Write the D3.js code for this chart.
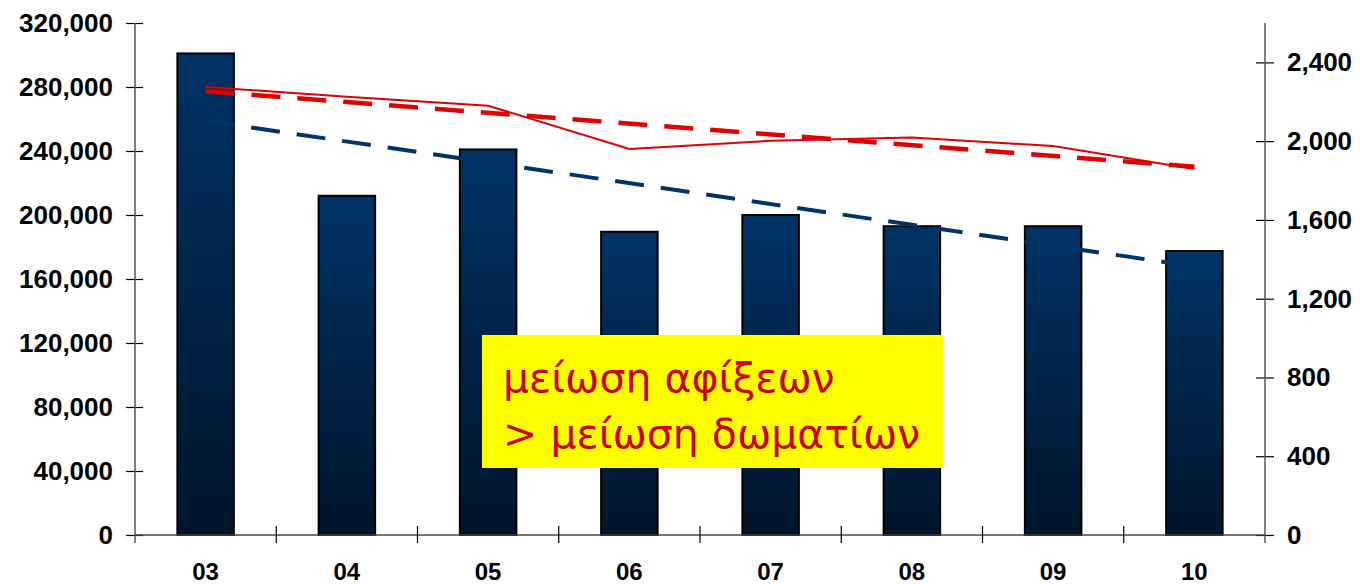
<!DOCTYPE html>
<html>
<head>
<meta charset="utf-8">
<script src="https://cdn.jsdelivr.net/npm/d3@7"></script>
<style>
  body { margin: 0; background: #fff; }
  svg { display: block; }
  .lbl { font-family: "Liberation Sans", Arial, sans-serif; font-weight: bold; fill: #000; }
</style>
</head>
<body>
<div id="chart"></div>
<script>
// years (20xx), bar series on left axis, line series on right axis
var years = ["03", "04", "05", "06", "07", "08", "09", "10"];
var arrivals = [301000, 212000, 241000, 189500, 200000, 193000, 193000, 177500];
var rooms = [2275, 2225, 2180, 1960, 2002, 2018, 1975, 1859];
var leftTicks = [0, 40000, 80000, 120000, 160000, 200000, 240000, 280000, 320000];
var rightTicks = [0, 400, 800, 1200, 1600, 2000, 2400];
var noteLines = ["μείωση αφίξεων", "> μείωση δωματίων"];

var W = 1360, H = 584,
    margin = { top: 23, right: 95, bottom: 49, left: 135 },
    width = W - margin.left - margin.right,
    height = H - margin.top - margin.bottom;

var svg = d3.select("#chart").append("svg")
    .attr("width", W)
    .attr("height", H);

var defs = svg.append("defs");
var grad = defs.append("linearGradient")
    .attr("id", "barGrad")
    .attr("x1", 0).attr("y1", 0).attr("x2", 0).attr("y2", 1);
grad.append("stop").attr("offset", "0%").attr("stop-color", "#003366");
grad.append("stop").attr("offset", "100%").attr("stop-color", "#00152b");

var g = svg.append("g")
    .attr("transform", "translate(" + margin.left + "," + margin.top + ")");

var x = d3.scaleBand().domain(years).range([0, width]).padding(0);
var yL = d3.scaleLinear().domain([0, 320000]).range([height, 0]);
var yR = d3.scaleLinear().domain([0, 2600]).range([height, 0]);

var fmt = d3.format(",");
var barW = x.bandwidth() * 0.4;
var cx = function(i) { return x(years[i]) + x.bandwidth() / 2; };

// least squares trend for a series
function trend(vals) {
    var n = vals.length, mx = (n - 1) / 2, my = d3.mean(vals), sxy = 0, sxx = 0;
    vals.forEach(function(v, i) { sxy += (i - mx) * (v - my); sxx += (i - mx) * (i - mx); });
    var b = sxy / sxx;
    return vals.map(function(v, i) { return my + b * (i - mx); });
}

// bars
g.selectAll(".bar")
    .data(arrivals)
    .enter().append("rect")
    .attr("class", "bar")
    .attr("x", function(d, i) { return cx(i) - barW / 2; })
    .attr("y", function(d) { return yL(d); })
    .attr("width", barW)
    .attr("height", function(d) { return height - yL(d); })
    .style("fill", "url(#barGrad)")
    .style("stroke", "#000")
    .style("stroke-width", 2);

// axes
var axL = g.append("g").call(d3.axisLeft(yL).tickValues(leftTicks).tickFormat(fmt).tickSizeInner(8).tickSizeOuter(0).tickPadding(14));
var axR = g.append("g").attr("transform", "translate(" + width + ",0)")
    .call(d3.axisRight(yR).tickValues(rightTicks).tickFormat(fmt).tickSizeInner(9).tickSizeOuter(0).tickPadding(13));
[axL, axR].forEach(function(ax) {
    ax.attr("font-size", null).attr("font-family", null);
    ax.select(".domain").remove();
    ax.selectAll("text").attr("class", "lbl").style("font-size", "26px");
    ax.selectAll("line").attr("stroke", "#000").attr("stroke-width", 1.2);
});
// ticks cross the axis lines
axL.selectAll(".tick line").attr("x1", 8).attr("x2", -9);
axR.selectAll(".tick line").attr("x1", -9).attr("x2", 9);

var line = function(x1, y1, x2, y2, c) {
    g.append("line").attr("x1", x1).attr("y1", y1).attr("x2", x2).attr("y2", y2)
        .attr("stroke", c).attr("stroke-width", 1.5);
};
line(0, 0, 0, height + 8, "#555");
line(width, 0, width, height + 8, "#555");
line(0, height, width, height, "#444");

// category separator ticks on x axis
g.selectAll(".xtick")
    .data(years.slice(1))
    .enter().append("line")
    .attr("x1", function(d) { return x(d); })
    .attr("x2", function(d) { return x(d); })
    .attr("y1", height - 9)
    .attr("y2", height + 8)
    .attr("stroke", "#000")
    .attr("stroke-width", 1.2);

g.selectAll(".xlbl")
    .data(years)
    .enter().append("text")
    .attr("class", "lbl")
    .attr("x", function(d, i) { return cx(i); })
    .attr("y", height + 45)
    .attr("text-anchor", "middle")
    .style("font-size", "24px")
    .text(function(d) { return d; });

// lines
var lineR = d3.line().x(function(d, i) { return cx(i); }).y(function(d) { return yR(d); });

var tA = trend(arrivals), tR = trend(rooms);

g.append("path")
    .datum([tA[0], tA[tA.length - 1]])
    .attr("d", d3.line().x(function(d, i) { return cx(i * (years.length - 1)); }).y(function(d) { return yL(d); }))
    .attr("fill", "none")
    .attr("stroke", "#003366")
    .attr("stroke-width", 4)
    .attr("stroke-dasharray", "29,17");

g.append("path")
    .datum(rooms)
    .attr("d", lineR)
    .attr("fill", "none")
    .attr("stroke", "#e00000")
    .attr("stroke-width", 2);

g.append("path")
    .datum([tR[0], tR[tR.length - 1]])
    .attr("d", d3.line().x(function(d, i) { return cx(i * (years.length - 1)); }).y(function(d) { return yR(d); }))
    .attr("fill", "none")
    .attr("stroke", "#e00000")
    .attr("stroke-width", 4.5)
    .attr("stroke-dasharray", "29,17");

// annotation box
var note = svg.append("g").attr("transform", "translate(482,335)");
note.append("rect")
    .attr("width", 461)
    .attr("height", 133)
    .style("fill", "#ffff00");
note.selectAll("text")
    .data(noteLines)
    .enter().append("text")
    .attr("x", 21)
    .attr("y", function(d, i) { return 57 + i * 56; })
    .style("font-family", "'DejaVu Sans', Verdana, sans-serif")
    .style("font-size", "41px")
    .style("fill", "#cc0000")
    .text(function(d) { return d; });
</script>
</body>
</html>
